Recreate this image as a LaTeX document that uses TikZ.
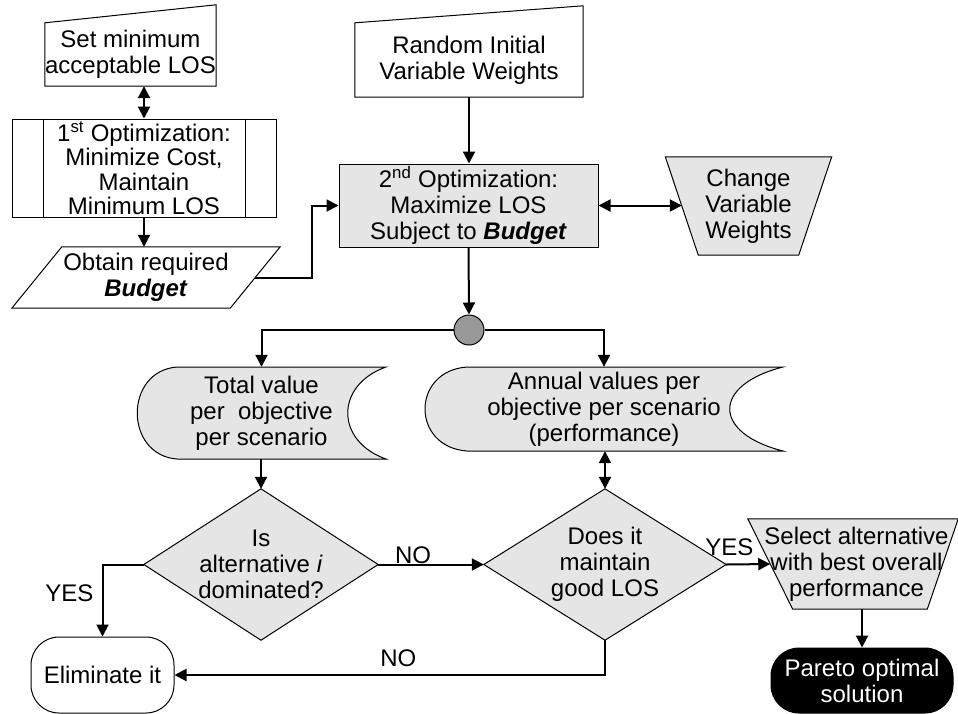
\documentclass[tikz,border=0pt]{standalone}
\usepackage{fontspec}
\setmainfont{Liberation Sans}
\usetikzlibrary{arrows.meta,backgrounds}

\begin{document}
\begin{tikzpicture}[x=1pt, y=-1pt, font=\fontsize{24}{26}\selectfont]
    % Define styles
    \tikzset{
        hold/.style={rectangle, align=center, inner sep=0pt},
        process/.style={hold, draw, line width=1pt},
        shaded/.style={process, fill=gray!20},
        terminal/.style={process, rounded corners=28pt},
        outline/.style={draw, line width=1pt, fill=white},
        arrow/.style={-{Triangle[length=12pt,width=12pt]}, line width=2pt},
        twoway/.style={{Triangle[length=12pt,width=12pt]}-{Triangle[length=12pt,width=12pt]}, line width=2pt},
        answer/.style={inner sep=0pt}
    }
    \useasboundingbox (0,0) rectangle (958,713);

    % Nodes
    \node[hold, minimum width=169pt, minimum height=63pt] (setlos) at (130.5,54.5) {Set minimum\\acceptable LOS};
    \node[process, minimum width=264pt, minimum height=98pt, font=\fontsize{24}{24.5}\selectfont] (opt1) at (144,168) {1\textsuperscript{st} Optimization:\\Minimize Cost,\\Maintain\\Minimum LOS};
    \draw[line width=1pt] ([xshift=32pt]opt1.north west) -- ([xshift=32pt]opt1.south west)
        ([xshift=-31pt]opt1.north east) -- ([xshift=-31pt]opt1.south east);
    \node[hold, minimum width=218pt, minimum height=61pt] (budget) at (146,277.5) {Obtain required\\\textbf{\textit{Budget}}};
    \node[hold, minimum width=228pt, minimum height=74pt] (rand) at (469,60) {Random Initial\\Variable Weights};
    \node[shaded, minimum width=259pt, minimum height=83pt] (opt2) at (468.5,205.5) {2\textsuperscript{nd} Optimization:\\Maximize LOS\\Subject to \textbf{\textit{Budget}}};
    \node[hold, minimum width=133pt, minimum height=98pt] (change) at (748.5,206) {Change\\Variable\\Weights};
    \node[circle, draw, line width=1pt, fill=gray!80, minimum size=30pt, inner sep=0pt] (hub) at (469,330) {};
    \node[hold, minimum width=249pt, minimum height=92pt] (total) at (261.5,413) {Total value\\per\ \ objective\\per scenario};
    \node[hold, minimum width=358pt, minimum height=84pt] (annual) at (604,409) {Annual values per\\objective per scenario\\(performance)};
    \node[hold, minimum width=234pt, minimum height=151pt] (dom) at (261,564.5) {Is\\alternative \textit{i}\\dominated?};
    \node[hold, minimum width=242pt, minimum height=151pt] (los) at (605,564.5) {Does it\\maintain\\good LOS};
    \node[hold, inner xsep=-6pt, minimum width=172pt, minimum height=90pt] (select) at (856.5,564) {Select alternative\\with best overall\\performance};
    \node[terminal, fill=black, text=white, minimum width=182pt, minimum height=65pt] (pareto) at (862,680.5) {Pareto optimal\\solution};
    \node[terminal, fill=white, minimum width=143pt, minimum height=76pt] (elim) at (102.5,675) {Eliminate it};

    % Outlines
    \begin{scope}[on background layer]
        \draw[outline] (setlos.south west) -- (setlos.south east) -- ([yshift=18pt]setlos.north east) -- (setlos.north west) -- cycle;
        \draw[outline] ([xshift=25pt]budget.north west) -- ([xshift=25pt]budget.north east) -- ([xshift=-25pt]budget.south east) -- ([xshift=-25pt]budget.south west) -- cycle;
        \draw[outline] (rand.south west) -- (rand.south east) -- ([yshift=17pt]rand.north east) -- (rand.north west) -- cycle;
        \draw[outline, fill=gray!20] ([xshift=-16.5pt]change.north west) -- ([xshift=16.5pt]change.north east) -- ([xshift=-16.5pt]change.south east) -- ([xshift=16.5pt]change.south west) -- cycle;
        \draw[outline, fill=gray!20] (177,367) -- (386,367) .. controls (335,385) and (335,441) .. (386,459) -- (177,459) .. controls (124,455) and (124,371) .. (177,367) -- cycle;
        \draw[outline, fill=gray!20] (467,367) -- (783,367) .. controls (712,385) and (712,433) .. (783,451) -- (467,451) .. controls (411,447) and (411,371) .. (467,367) -- cycle;
        \draw[outline, fill=gray!20] (dom.north) -- (dom.east) -- (dom.south) -- (dom.west) -- cycle;
        \draw[outline, fill=gray!20] (los.north) -- (los.east) -- (los.south) -- (los.west) -- cycle;
        \draw[outline, fill=gray!20] ([xshift=-22.5pt]select.north west) -- ([xshift=15.5pt]select.north east) -- ([xshift=-15.5pt]select.south east) -- ([xshift=22.5pt]select.south west) -- cycle;
    \end{scope}

    % Arrows
    \draw[twoway] (setlos.south -| opt1.north) -- (opt1.north);
    \draw[arrow] (opt1.south) -- (opt1.south |- budget.north);
    \draw[arrow] (budget.east) -- ++(57,0) |- (opt2.west);
    \draw[arrow] (rand.south) -- (rand.south |- opt2.north);
    \draw[twoway] (opt2.east) -- (opt2.east -| change.west);
    \draw[arrow] (opt2.south) -- (hub.north);
    \draw[arrow] (hub.west) -| (total.north);
    \draw[arrow] (hub.east) -| (annual.north);
    \draw[arrow] (dom.north |- total.south) -- (dom.north);
    \draw[twoway] (los.north |- annual.south) -- (los.north);
    \draw[arrow] (dom.east) -- (los.west) node[above=0pt, answer, pos=0.33] {NO};
    \draw[arrow] (dom.west) -| (elim.north) node[left=8pt, answer, pos=0.7] {YES};
    \draw[arrow] (los.south) |- (elim.east) node[above=7pt, answer, pos=0.74] {NO};
    \draw[arrow] (los.east) -- (select.west) node[above=8pt, answer, pos=0.07] {YES};
    \draw[arrow] (pareto.north |- select.south) -- (pareto.north);
\end{tikzpicture}
\end{document}
